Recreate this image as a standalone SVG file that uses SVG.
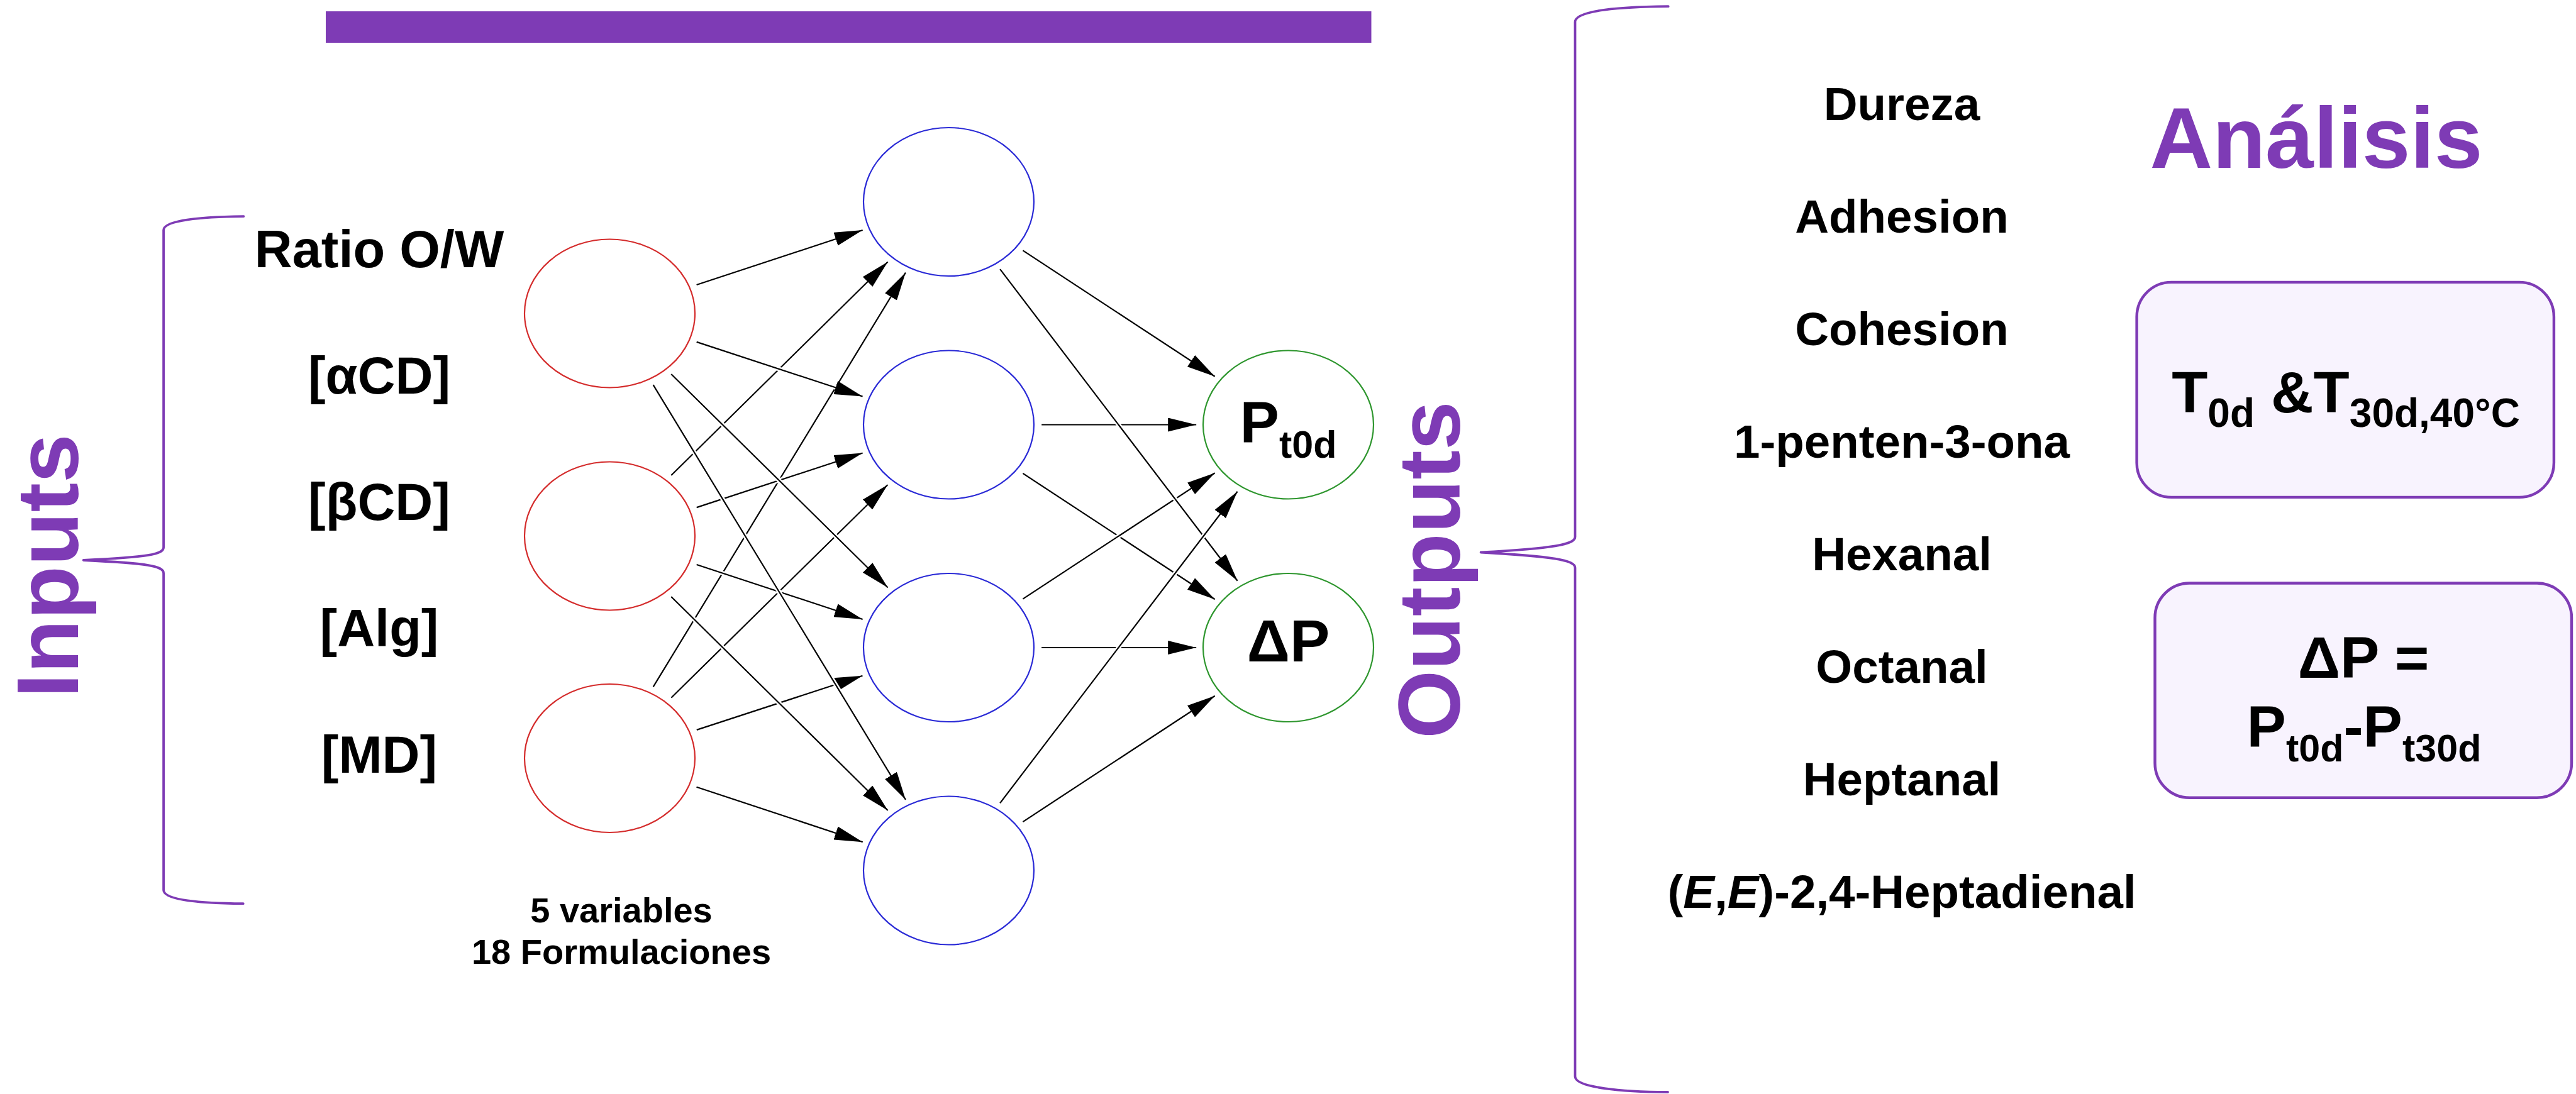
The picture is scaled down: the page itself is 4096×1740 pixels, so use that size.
<svg xmlns="http://www.w3.org/2000/svg" width="4096" height="1740" viewBox="0 0 4096 1740">
<style>
.t{font-family:"Liberation Sans",Arial,sans-serif;font-weight:700;fill:#000;text-anchor:middle}
.in{font-size:83px}
.rt{font-size:74.5px}
.pu{fill:#7E3BB5}
.big{font-size:140px}
.edge{fill:none;stroke:#000;stroke-width:2.2;marker-end:url(#ah)}
.halo{fill:none;stroke:#fff;stroke-width:7}
.nr{fill:#fff;stroke:#D42C2C;stroke-width:2.2}
.nb{fill:#fff;stroke:#2A2AD6;stroke-width:2.2}
.ng{fill:#fff;stroke:#2E962E;stroke-width:2.2}
.brace{fill:none;stroke:#7E3BB5;stroke-width:3.8;stroke-linecap:round;stroke-linejoin:round}
.box{fill:#F8F3FE;stroke:#7E3BB5;stroke-width:4.4}
</style>
<defs>
<marker id="ah" markerUnits="userSpaceOnUse" viewBox="0 0 45 22" markerWidth="45" markerHeight="22" refX="45" refY="11" orient="auto">
<path d="M0,0 L45,11 L0,22 z" fill="#000"/>
</marker>
</defs>
<rect id="title-bar" x="518" y="18" width="1662.5" height="50" fill="#7E3BB5"/>
<g id="inputs-brace">
<path class="brace" d="M387.4,344.1 C320,344.8 260.1,350 260.1,366 L260.1,870.6 C260.1,882 235,886 132.7,891 C235,896 260.1,900 260.1,911.75 L260.1,1415.75 C260.1,1432 320,1436.7 386.75,1437.2"/>
<text class="t pu big" transform="translate(124.3,900) rotate(-90)">Inputs</text>
</g>
<g id="input-labels">
<text class="t in" x="603" y="424.5">Ratio O/W</text>
<text class="t in" x="603" y="625.5">[αCD]</text>
<text class="t in" x="603" y="826.5">[βCD]</text>
<text class="t in" x="603" y="1027.5">[Alg]</text>
<text class="t in" x="603" y="1229">[MD]</text>
</g>
<g id="connectors">
<path class="halo" d="M1038.70,1092.37 L1439.93,433.58"/><path class="edge" d="M1038.70,1092.37 L1439.93,433.58"/>
<path class="halo" d="M1067.37,1109.67 L1411.53,770.94"/><path class="edge" d="M1067.37,1109.67 L1411.53,770.94"/>
<path class="halo" d="M1107.79,1160.85 L1371.48,1074.74"/><path class="edge" d="M1107.79,1160.85 L1371.48,1074.74"/>
<path class="halo" d="M1107.55,1251.72 L1371.72,1339.20"/><path class="edge" d="M1107.55,1251.72 L1371.72,1339.20"/>
<path class="halo" d="M1067.27,756.09 L1411.63,416.52"/><path class="edge" d="M1067.27,756.09 L1411.63,416.52"/>
<path class="halo" d="M1107.69,807.12 L1371.57,720.46"/><path class="edge" d="M1107.69,807.12 L1371.57,720.46"/>
<path class="halo" d="M1107.65,897.99 L1371.63,984.93"/><path class="edge" d="M1107.65,897.99 L1371.63,984.93"/>
<path class="halo" d="M1067.21,948.95 L1411.68,1288.94"/><path class="edge" d="M1067.21,948.95 L1411.68,1288.94"/>
<path class="halo" d="M1107.65,453.01 L1371.63,366.07"/><path class="edge" d="M1107.65,453.01 L1371.63,366.07"/>
<path class="halo" d="M1107.69,543.88 L1371.57,630.54"/><path class="edge" d="M1107.69,543.88 L1371.57,630.54"/>
<path class="halo" d="M1067.27,594.91 L1411.63,934.48"/><path class="edge" d="M1067.27,594.91 L1411.63,934.48"/>
<path class="halo" d="M1038.64,612.16 L1439.99,1271.88"/><path class="edge" d="M1038.64,612.16 L1439.99,1271.88"/>
<path class="halo" d="M1656.20,675.5 L1902.16,675.5"/><path class="edge" d="M1656.20,675.5 L1902.16,675.5"/>
<path class="halo" d="M1656.20,1030 L1902.16,1030"/><path class="edge" d="M1656.20,1030 L1902.16,1030"/>
<path class="halo" d="M1626.44,752.92 L1931.64,953.29"/><path class="edge" d="M1626.44,752.92 L1931.64,953.29"/>
<path class="halo" d="M1626.44,952.58 L1931.64,752.21"/><path class="edge" d="M1626.44,952.58 L1931.64,752.21"/>
<path class="halo" d="M1626.44,398.42 L1931.64,598.79"/><path class="edge" d="M1626.44,398.42 L1931.64,598.79"/>
<path class="halo" d="M1626.44,1307.08 L1931.64,1106.71"/><path class="edge" d="M1626.44,1307.08 L1931.64,1106.71"/>
<path class="halo" d="M1590.14,428.19 L1967.61,923.79"/><path class="edge" d="M1590.14,428.19 L1967.61,923.79"/>
<path class="halo" d="M1590.14,1277.31 L1967.61,781.71"/><path class="edge" d="M1590.14,1277.31 L1967.61,781.71"/>
</g>
<g id="input-1"><ellipse class="nr" cx="969.5" cy="498.5" rx="135.5" ry="118"/></g>
<g id="input-2"><ellipse class="nr" cx="969.5" cy="852.5" rx="135.5" ry="118"/></g>
<g id="input-3"><ellipse class="nr" cx="969.5" cy="1206" rx="135.5" ry="118"/></g>
<g id="hidden-1"><ellipse class="nb" cx="1508.5" cy="321" rx="135.5" ry="118"/></g>
<g id="hidden-2"><ellipse class="nb" cx="1508.5" cy="675.5" rx="135.5" ry="118"/></g>
<g id="hidden-3"><ellipse class="nb" cx="1508.5" cy="1030" rx="135.5" ry="118"/></g>
<g id="hidden-4"><ellipse class="nb" cx="1508.5" cy="1384.5" rx="135.5" ry="118"/></g>
<g id="output-1"><ellipse class="ng" cx="2048.5" cy="675.5" rx="135.5" ry="118"/>
<text class="t" x="2048.5" y="704.4" font-size="93.6">P<tspan font-size="61" dy="23.6">t0d</tspan></text></g>
<g id="output-2"><ellipse class="ng" cx="2048.5" cy="1030" rx="135.5" ry="118"/>
<text class="t" x="2048.5" y="1051.75" font-size="95">ΔP</text></g>
<g id="caption">
<text class="t" x="988" y="1466.5" font-size="56">5 variables</text>
<text class="t" x="988" y="1533" font-size="56">18 Formulaciones</text>
</g>
<g id="outputs-brace">
<text class="t pu big" transform="translate(2320.5,906.5) rotate(-90)">Outputs</text>
<path class="brace" d="M2652.7,10.2 C2580,10.8 2504.5,16 2504.5,35 L2504.5,854 C2504.5,866 2470,872 2354.6,878.5 C2470,885 2504.5,891 2504.5,903 L2504.5,1712 C2504.5,1730 2580,1736.5 2652,1737"/>
</g>
<g id="output-labels">
<text class="t rt" x="3024" y="190.5">Dureza</text>
<text class="t rt" x="3024" y="369.6">Adhesion</text>
<text class="t rt" x="3024" y="548.7">Cohesion</text>
<text class="t rt" x="3024" y="727.8">1-penten-3-ona</text>
<text class="t rt" x="3024" y="906.9">Hexanal</text>
<text class="t rt" x="3024" y="1086">Octanal</text>
<text class="t rt" x="3024" y="1265.1">Heptanal</text>
<text class="t rt" x="3024" y="1444.2">(<tspan font-style="italic">E</tspan>,<tspan font-style="italic">E</tspan>)-2,4-Heptadienal</text>
</g>
<text id="analisis" class="t pu" x="3683" y="267" font-size="138">Análisis</text>
<g id="box-times">
<rect class="box" x="3397.6" y="448.9" width="663.3" height="342" rx="55" ry="55"/>
<text class="t" x="3730" y="656" font-size="93.6">T<tspan font-size="64" dy="22.75">0d</tspan><tspan dy="-22.75"> &amp;T</tspan><tspan font-size="64" dy="22.75">30d,40°C</tspan></text>
</g>
<g id="box-delta">
<rect class="box" x="3426.5" y="927.5" width="662.5" height="341.25" rx="55" ry="55"/>
<text class="t" x="3758" y="1078" font-size="93.6">ΔP =</text>
<text class="t" x="3759" y="1188" font-size="93.6">P<tspan font-size="61" dy="22.75">t0d</tspan><tspan dy="-22.75">-P</tspan><tspan font-size="61" dy="22.75">t30d</tspan></text>
</g>
</svg>
